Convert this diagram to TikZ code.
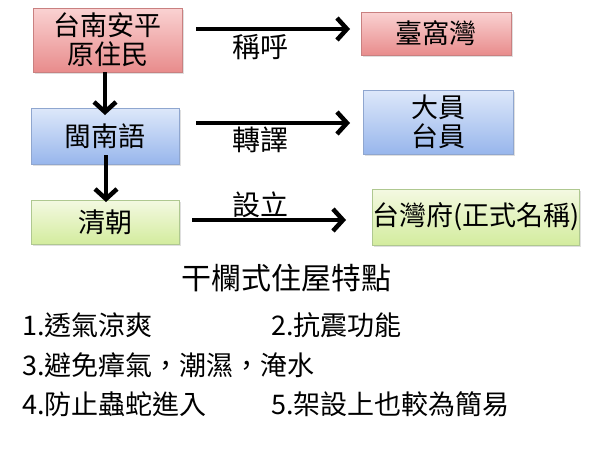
\documentclass[tikz,border=0pt]{standalone}
\usepackage{fontspec}
\setmainfont{Noto Sans CJK TC}
\usetikzlibrary{arrows.meta,shadows}
\definecolor{redT}{HTML}{FAD2D2}
\definecolor{redB}{HTML}{E88C8C}
\definecolor{redL}{HTML}{C98080}
\definecolor{bluT}{HTML}{DDE8FA}
\definecolor{bluB}{HTML}{98B6EC}
\definecolor{bluL}{HTML}{8FA6CF}
\definecolor{grnT}{HTML}{F4F9E2}
\definecolor{grnB}{HTML}{D3EC9E}
\definecolor{grnL}{HTML}{AFC890}
\tikzset{
  boxbase/.style={draw, line width=0.8pt, align=center, inner sep=0pt,
    font=\fontsize{27}{29}\selectfont,
    drop shadow={shadow xshift=1.5pt, shadow yshift=-1.5pt, opacity=0.25}},
  redbox/.style={boxbase, draw=redL, top color=redT, bottom color=redB},
  blubox/.style={boxbase, draw=bluL, top color=bluT, bottom color=bluB},
  grnbox/.style={boxbase, draw=grnL, top color=grnT, bottom color=grnB},
  bigarrow/.style={line width=4.5pt, -{Straight Barb[length=10pt,width=22pt,line width=4.5pt]}},
  lbl/.style={font=\fontsize{28}{30}\selectfont, inner sep=0pt},
  body/.style={font=\fontsize{27}{30}\selectfont, inner sep=0pt, anchor=west}
}
\begin{document}
\begin{tikzpicture}[x=1pt,y=-1pt]
\fill[white] (0,0) rectangle (600,450);
\useasboundingbox (0,0) rectangle (600,450);
% boxes
\node[redbox, minimum width=149pt, minimum height=64pt] (r1) at (107.5,40) {台南安平\\原住民};
\node[blubox, minimum width=148pt, minimum height=56pt] (b1) at (105,136) {閩南語};
\node[grnbox, minimum width=148pt, minimum height=44pt] (g1) at (105,222) {清朝};
\node[redbox, minimum width=150pt, minimum height=43pt] (r2) at (436,33.5) {臺窩灣};
\node[blubox, minimum width=150pt, minimum height=64pt] (b2) at (438,122) {大員\\台員};
\node[grnbox, minimum width=206pt, minimum height=56pt] (g2) at (476,217) {台灣府(正式名稱)};
% arrow coordinates
\coordinate (h1s) at (196,29);  \coordinate (h1e) at (350,29);
\coordinate (h2s) at (196,123); \coordinate (h2e) at (350,123);
\coordinate (h3s) at (192,220); \coordinate (h3e) at (346,220);
\coordinate (v1s) at (105,72);  \coordinate (v1e) at (105,115);
\coordinate (v2s) at (106,155); \coordinate (v2e) at (106,202);
\draw[bigarrow] (h1s) -- (h1e);
\draw[bigarrow] (h2s) -- (h2e);
\draw[bigarrow] (h3s) -- (h3e);
\draw[bigarrow] (v1s) -- (v1e);
\draw[bigarrow] (v2s) -- (v2e);
% labels
\node[lbl] (l1) at (260,47) {稱呼};
\node[lbl] (l2) at (260,140) {轉譯};
\node[lbl] (l3) at (260,205) {設立};
% bottom text
\node[font=\fontsize{30}{32}\selectfont, inner sep=0pt] (title) at (286,278) {干欄式住屋特點};
\node[body] (t1) at (22,325) {1.透氣涼爽};
\node[body] (t2) at (271,325) {2.抗震功能};
\node[body] (t3) at (22,365) {3.避免瘴氣，潮濕，淹水};
\node[body] (t4) at (22,404) {4.防止蟲蛇進入};
\node[body] (t5) at (271,404) {5.架設上也較為簡易};
\end{tikzpicture}
\end{document}
